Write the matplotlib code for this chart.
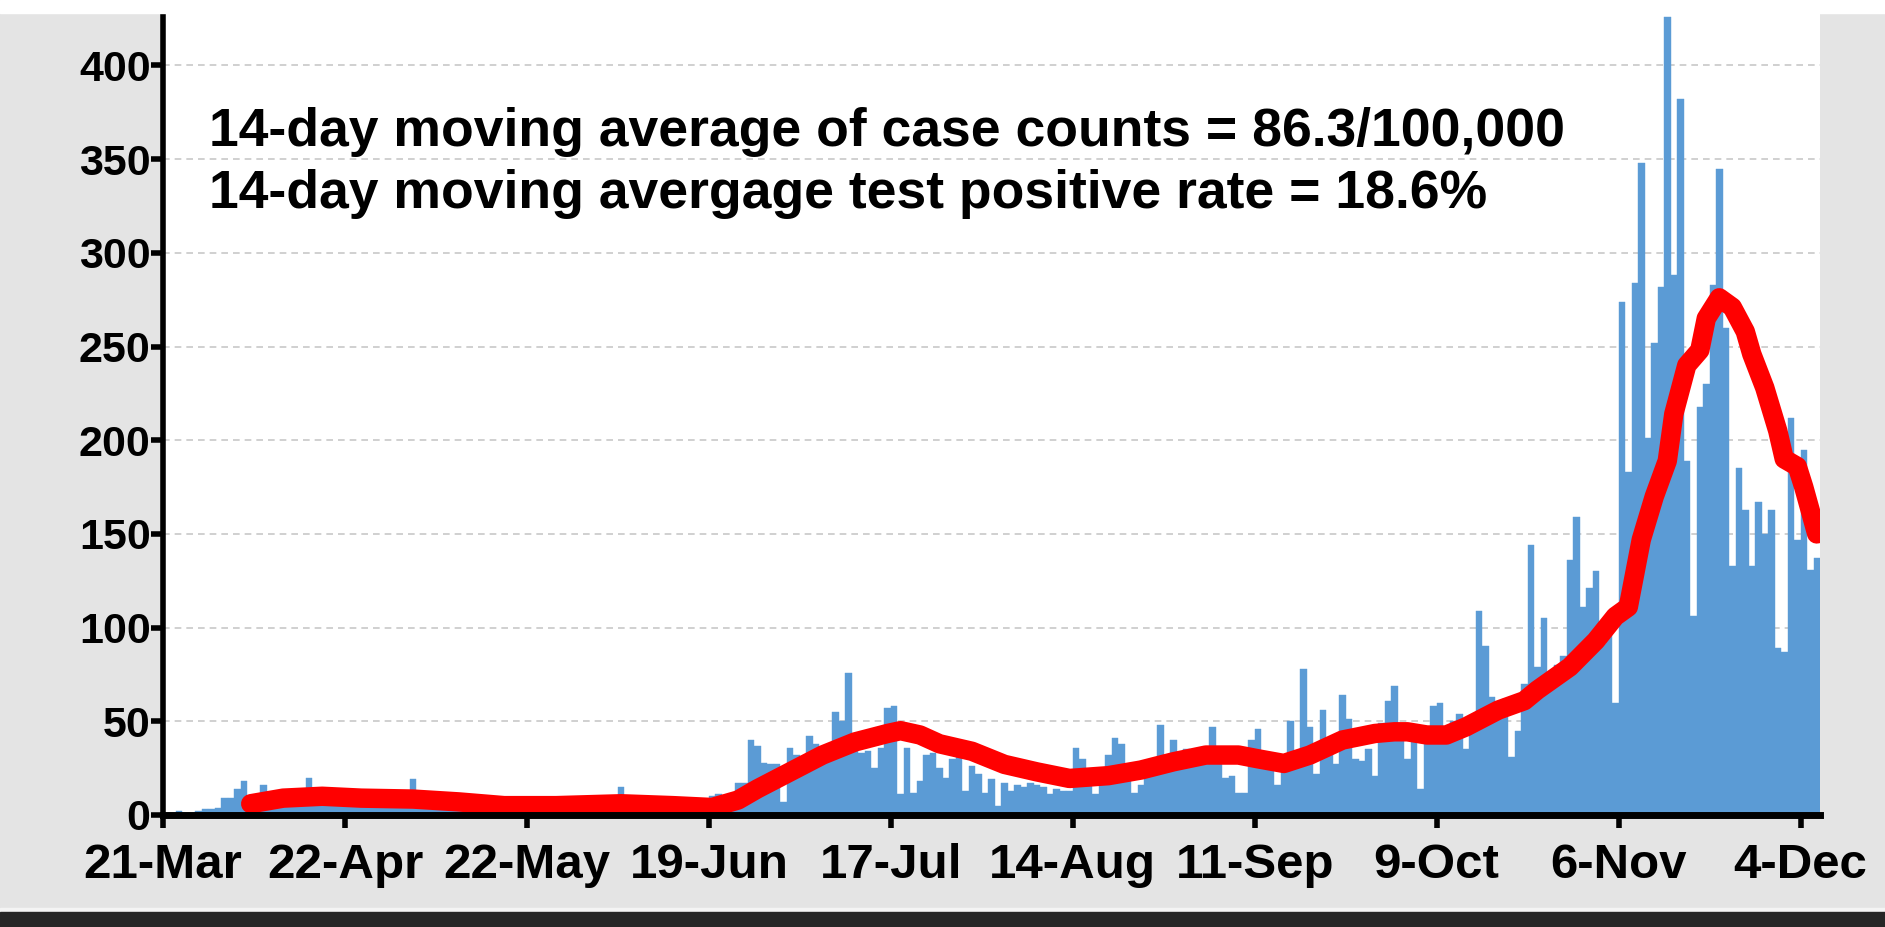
import matplotlib
matplotlib.use('Agg')
import matplotlib.pyplot as plt
import numpy as np

plt.rcParams.update({
    'font.family': ['Liberation Sans', 'DejaVu Sans'],
    'font.weight': 'bold',
})

# daily case counts per 100,000 (one bar per day)
cases = [
    1, 0, 2, 1, 1, 2, 3, 3, 4, 9,
    9, 14, 18, 7, 8, 16, 9, 6, 5, 7,
    8, 10, 20, 9, 7, 8, 6, 7, 5, 8,
    9, 6, 7, 8, 6, 7, 8, 9, 19, 10,
    8, 7, 6, 9, 7, 5, 6, 5, 4, 6,
    5, 4, 3, 5, 4, 3, 4, 5, 4, 5,
    6, 4, 5, 6, 5, 4, 6, 5, 4, 6,
    15, 5, 4, 6, 5, 4, 3, 5, 4, 3,
    4, 3, 4, 3, 10, 11, 5, 6, 17, 17,
    40, 37, 28, 27, 27, 7, 36, 32, 26, 42,
    38, 30, 31, 55, 50, 76, 35, 33, 34, 25,
    36, 57, 58, 11, 36, 12, 18, 32, 33, 25,
    20, 30, 31, 13, 26, 22, 12, 19, 5, 17,
    13, 16, 15, 17, 16, 15, 11, 14, 13, 13,
    36, 30, 20, 11, 20, 32, 41, 38, 20, 12,
    16, 22, 25, 48, 27, 40, 28, 35, 30, 28,
    30, 47, 28, 20, 21, 12, 12, 40, 46, 28,
    30, 16, 26, 50, 28, 78, 47, 22, 56, 35,
    27, 64, 51, 30, 29, 35, 21, 49, 61, 69,
    42, 30, 40, 14, 40, 58, 60, 45, 50, 54,
    35, 48, 109, 90, 63, 60, 62, 31, 45, 70,
    144, 79, 105, 68, 80, 85, 136, 159, 111, 121,
    130, 91, 100, 60, 274, 183, 284, 348, 201, 252,
    282, 426, 288, 382, 189, 106, 218, 230, 283, 345,
    260, 133, 185, 163, 133, 167, 150, 163, 89, 87,
    212, 147, 195, 131, 137,
]

# 14-day moving average (red curve), read at these day indices
red_days = [13, 18, 24, 30, 38, 45, 52, 60, 70, 78,
            84, 88, 91, 96, 101, 106, 111, 113, 116, 119,
            124, 129, 134, 139, 145, 150, 155, 160, 165, 168,
            172, 176, 181, 186, 189, 191, 194, 197, 200, 205,
            209, 211, 216, 220, 223, 225, 227, 229, 231, 232,
            234, 236, 237, 239, 241, 243, 244, 246, 248, 249,
            251, 252, 254]
red_vals = [6, 9, 10, 9, 8.5, 7, 5, 5, 6, 5,
            4, 8, 14, 23, 32, 39, 43.5, 45, 42.7, 38,
            34, 27, 23, 19.5, 21, 24, 28.4, 32, 32, 30,
            27.5, 32, 40, 43.5, 44.4, 44.4, 42.7, 42.7, 47, 56,
            61, 66.7, 79, 93, 106, 111, 147, 170, 189, 214,
            240, 248, 265, 276, 271, 258, 246, 228, 205, 190,
            186, 175, 150]

tick_labels = ['21-Mar', '22-Apr', '22-May', '19-Jun', '17-Jul',
               '14-Aug', '11-Sep', '9-Oct', '6-Nov', '4-Dec']
tick_step = 28

note_lines = ['14-day moving average of case counts = 86.3/100,000',
              '14-day moving avergage test positive rate = 18.6%']

W, H = 1885, 927
fig = plt.figure(figsize=(W / 100, H / 100), dpi=100, facecolor='#e4e4e4')

# white strip on top and dark band at the bottom (screenshot frame)
fig.patches.append(plt.Rectangle((0, 1 - 13 / H), 1, 13 / H, transform=fig.transFigure,
                                 color='white', zorder=0))
fig.patches.append(plt.Rectangle((0, 0), 1, 19 / H, transform=fig.transFigure,
                                 color='#f4f4f4', zorder=0))
fig.patches.append(plt.Rectangle((0, 0), 1, 15 / H, transform=fig.transFigure,
                                 color='#262626', zorder=0))

ax = fig.add_axes([163 / W, 1 - 815 / H, (1820 - 163) / W, (815 - 13) / H])
ax.set_facecolor('white')

x = np.arange(len(cases))
ax.bar(x, cases, width=1.0, color='#5b9bd5', edgecolor='#5b9bd5', linewidth=0.3, zorder=2)
ax.plot(red_days, red_vals, color='red', linewidth=14,
        solid_capstyle='round', solid_joinstyle='round', zorder=3)

ax.set_xlim(-0.5, len(cases) - 0.5)
ax.set_ylim(0, 428)

ax.set_yticks(np.arange(0, 401, 50))
ax.set_xticks(np.arange(len(tick_labels)) * tick_step - 0.5)
ax.set_xticklabels(tick_labels)

ax.yaxis.grid(True, linestyle=(0, (4, 3)), color='#c8c8c8', linewidth=1.2, zorder=0)
ax.set_axisbelow(True)

for s in ['top', 'right']:
    ax.spines[s].set_visible(False)
ax.spines['left'].set_linewidth(4)
ax.spines['bottom'].set_linewidth(5)
ax.spines['bottom'].set_zorder(5)

ax.tick_params(axis='both', direction='out', length=9, width=4)
ax.tick_params(axis='x', pad=11, labelsize=35.5)
ax.tick_params(axis='y', pad=0, labelsize=31)

ax.text(0.028, 0.883, note_lines[0], transform=ax.transAxes, fontsize=38.5,
        fontweight='bold', va='top', ha='left')
ax.text(0.028, 0.806, note_lines[1], transform=ax.transAxes, fontsize=38.5,
        fontweight='bold', va='top', ha='left')

fig.savefig('out.png', dpi=100, facecolor=fig.get_facecolor())
